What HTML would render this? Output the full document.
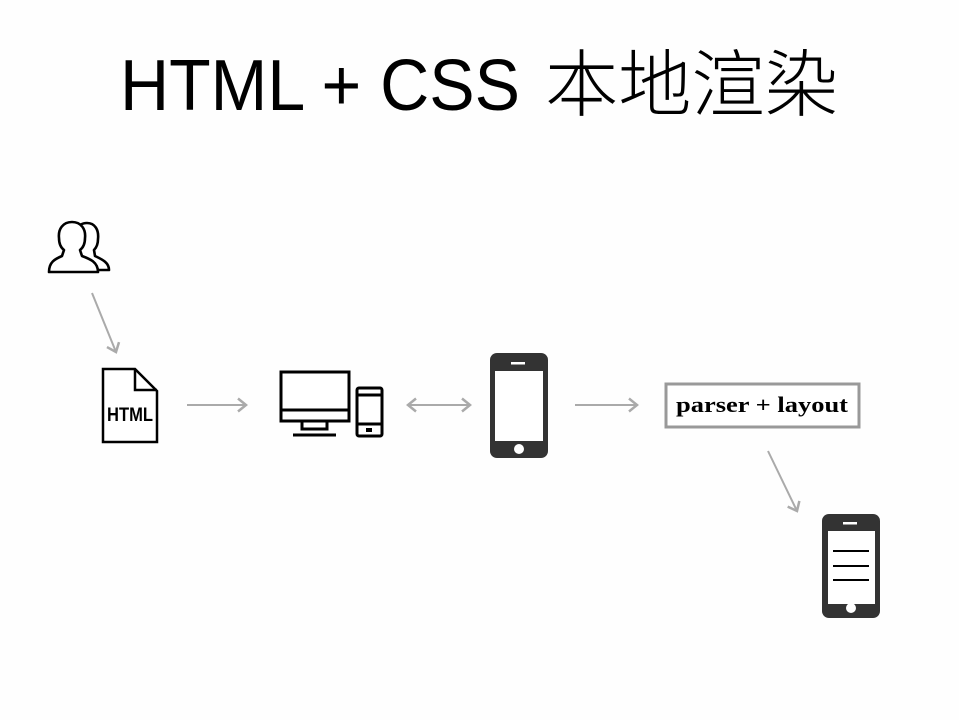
<!DOCTYPE html>
<html><head><meta charset="utf-8"><style>
html,body{margin:0;padding:0;background:#fff;}
svg{display:block}
</style></head><body>
<svg width="959" height="720" viewBox="0 0 959 720" xmlns="http://www.w3.org/2000/svg">
<rect width="959" height="720" fill="#fefefe"/>
<text x="120" y="110" font-family="Liberation Sans, sans-serif" font-size="72" fill="#000" textLength="400" lengthAdjust="spacingAndGlyphs">HTML + CSS</text>
<text x="545" y="110" font-family="Liberation Sans, 'Noto Sans CJK SC', sans-serif" font-size="73" font-weight="300" fill="#000" textLength="293" lengthAdjust="spacingAndGlyphs">本地渲染</text>

<defs>
<marker id="ah" markerWidth="16" markerHeight="16" refX="11" refY="8" orient="auto" markerUnits="userSpaceOnUse">
<path d="M3,1.5 L11,8 L3,14.5" fill="none" stroke="#aaa" stroke-width="2.5"/>
</marker>
<marker id="ahs" markerWidth="16" markerHeight="16" refX="5" refY="8" orient="auto" markerUnits="userSpaceOnUse">
<path d="M13,1.5 L5,8 L13,14.5" fill="none" stroke="#aaa" stroke-width="2.5"/>
</marker>
</defs>

<!-- users icon -->
<g fill="#fff" stroke="#000" stroke-width="2.6" stroke-linejoin="round">
<path d="M88,270 L109,270 C109,262 101,259 95,256 L94,250 C97,247 98,243 98,239 C99,230 95,223 87,223 C81,223 78,226 76,230"/>
<path d="M49,272 L98,272 C98,262 90,259 82,256 L80,250 C84,247 85,242 85,238 C86,229 81,222 72,222 C63,222 58,229 59,238 C59,242 60,247 64,250 L62,256 C55,259 49,262 49,272 Z"/>
</g>

<line x1="92" y1="293" x2="116" y2="352" stroke="#aaa" stroke-width="2" marker-end="url(#ah)"/>

<!-- HTML doc -->
<path d="M103,369 L135,369 L157,391 L157,442 L103,442 Z" fill="#fff" stroke="#000" stroke-width="2.5"/>
<path d="M135,369 L135,390 L157,390" fill="none" stroke="#000" stroke-width="2.5"/>
<text x="130" y="421" text-anchor="middle" font-family="Liberation Sans Narrow, Liberation Sans, sans-serif" font-weight="bold" font-size="19" textLength="46" lengthAdjust="spacingAndGlyphs">HTML</text>

<line x1="187" y1="405" x2="246" y2="405" stroke="#aaa" stroke-width="2" marker-end="url(#ah)"/>

<!-- desktop -->
<rect x="281" y="372" width="68" height="49" fill="#fff" stroke="#000" stroke-width="3"/>
<line x1="281" y1="410" x2="349" y2="410" stroke="#000" stroke-width="3"/>
<rect x="302" y="421" width="25" height="8" fill="#fff" stroke="#000" stroke-width="3"/>
<line x1="293" y1="435" x2="336" y2="435" stroke="#000" stroke-width="3"/>
<rect x="357" y="388" width="25" height="48" rx="2" fill="#fff" stroke="#000" stroke-width="3"/>
<line x1="357" y1="395" x2="382" y2="395" stroke="#000" stroke-width="3"/>
<line x1="357" y1="424" x2="382" y2="424" stroke="#000" stroke-width="3"/>
<rect x="366" y="428" width="6" height="4" fill="#000"/>

<line x1="408" y1="405" x2="470" y2="405" stroke="#aaa" stroke-width="2" marker-end="url(#ah)" marker-start="url(#ahs)"/>

<!-- phone 1 -->
<rect x="490" y="353" width="58" height="105" rx="7" fill="#333"/>
<rect x="495" y="371" width="48" height="70" fill="#fff"/>
<rect x="511" y="362" width="14" height="2.5" fill="#fff"/>
<circle cx="519" cy="449" r="5" fill="#fff"/>

<line x1="575" y1="405" x2="637" y2="405" stroke="#aaa" stroke-width="2" marker-end="url(#ah)"/>

<!-- parser box -->
<rect x="666" y="384" width="193" height="43" fill="#fff" stroke="#999" stroke-width="3"/>
<text x="762" y="412" text-anchor="middle" font-family="Liberation Serif, serif" font-weight="bold" font-size="22" textLength="172" lengthAdjust="spacingAndGlyphs">parser + layout</text>

<line x1="768" y1="451" x2="797" y2="511" stroke="#aaa" stroke-width="2" marker-end="url(#ah)"/>

<!-- phone 2 -->
<rect x="822" y="514" width="58" height="104" rx="7" fill="#333"/>
<rect x="828" y="531" width="47" height="73" fill="#fff"/>
<rect x="843" y="522" width="14" height="2.5" fill="#fff"/>
<circle cx="851" cy="608" r="5" fill="#fff"/>
<g stroke="#000" stroke-width="2">
<line x1="833" y1="551" x2="869" y2="551"/>
<line x1="833" y1="566" x2="869" y2="566"/>
<line x1="833" y1="580" x2="869" y2="580"/>
</g>
</svg>
</body></html>
